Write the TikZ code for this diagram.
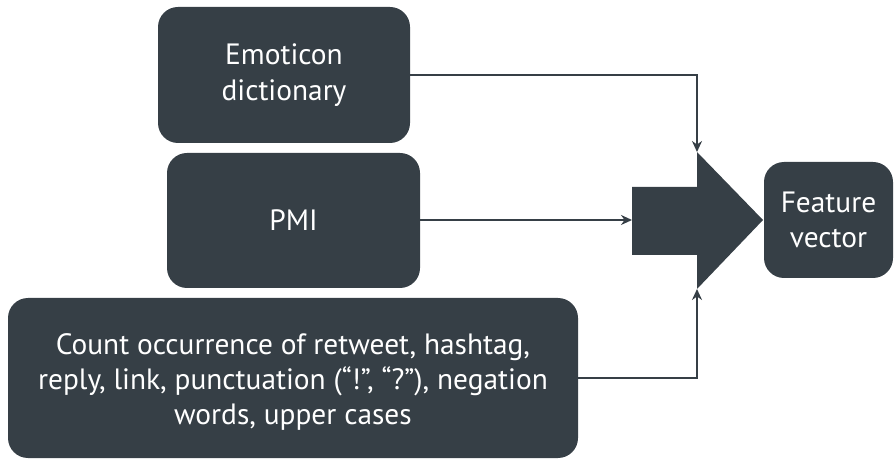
\documentclass[tikz,border=0pt]{standalone}
\usepackage{fontspec}
\setmainfont{PT Sans}
\usetikzlibrary{arrows.meta}
\definecolor{slate}{HTML}{363F46}
\begin{document}
\begin{tikzpicture}[x=1bp,y=-1bp,
  box/.style={fill=slate,draw=none,rounded corners=20bp,text=white,align=center,
    font=\fontsize{29.5}{35.5}\selectfont},
  link/.style={draw=slate,line width=2.5bp,-{Stealth[length=11bp,width=10bp]}}]
\useasboundingbox (0,0) rectangle (894,459);
% source boxes
\path[box] (158,7) rectangle (410,143);
\node[box,fill=none] (emo) at (284,75) {Emoticon\\dictionary};
\path[box] (167,153) rectangle (420,288);
\node[box,fill=none] (pmi) at (293.5,220) {PMI};
\path[box] (8,298) rectangle (578,458);
\node[box,fill=none] (cnt) at (293,382) {Count occurrence of retweet, hashtag,\\reply, link, punctuation (“!”, “?”), negation\\words, upper cases};
% merging arrow
\fill[slate] (632,187) -- (697,187) -- (697,152) -- (763,220) -- (697,289) -- (697,255) -- (632,255) -- cycle;
\coordinate (atop) at (697,152);
\coordinate (abot) at (697,289);
\coordinate (aleft) at (632,220);
\coordinate (emoR) at (410,75);
\coordinate (pmiR) at (420,220);
\coordinate (cntR) at (578,378);
% result box
\path[box] (764,162) rectangle (893,278);
\node[box,fill=none] (feat) at (828.5,220) {Feature\\vector};
% connectors
\draw[link] (emoR) -| (atop);
\draw[link] (pmiR) -- (aleft);
\draw[link] (cntR) -| (abot);
\end{tikzpicture}
\end{document}
